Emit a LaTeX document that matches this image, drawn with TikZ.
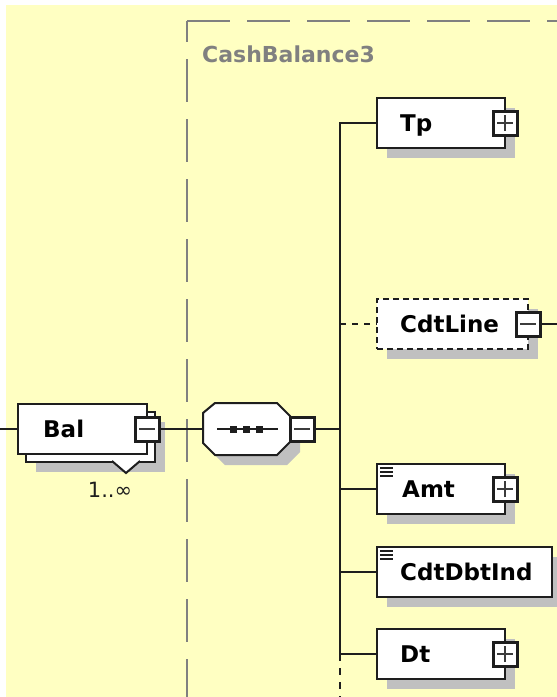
\documentclass[tikz,border=0pt]{standalone}
\usepackage{fontspec}
\setmainfont{DejaVu Sans}
\usetikzlibrary{calc,shadows}
\definecolor{bgy}{RGB}{255,255,194}
\definecolor{grp}{RGB}{128,128,128}
\definecolor{shd}{RGB}{192,192,192}
\definecolor{ink}{RGB}{30,30,30}
\definecolor{pmink}{RGB}{60,60,60}
\tikzset{
  elem/.style={draw=ink, line width=2pt, fill=white, inner sep=0pt, outer sep=0pt, minimum height=50pt, anchor=north west},
  shad/.style={drop shadow={shadow xshift=10pt, shadow yshift=-10pt, opacity=1, fill=shd}},
  lbl/.style={font=\fontsize{23}{23}\selectfont\bfseries, text=black, anchor=base west, inner sep=0pt},
  conn/.style={draw=ink, line width=2pt},
  pmbox/.style={draw=ink, line width=3pt, fill=white, minimum size=24pt, inner sep=0pt, outer sep=0pt},
  pmplus/.style={pmbox, path picture={\draw[line width=2pt, pmink]
      ([xshift=-8pt]path picture bounding box.center) -- ([xshift=8pt]path picture bounding box.center)
      ([yshift=-8pt]path picture bounding box.center) -- ([yshift=8pt]path picture bounding box.center);}},
  pmminus/.style={pmbox, path picture={\draw[line width=2pt, pmink]
      ([xshift=-8pt]path picture bounding box.center) -- ([xshift=8pt]path picture bounding box.center);}},
  iconline/.style={draw=ink, line width=1.5pt},
  grpline/.style={draw=grp, line width=2.5pt, dash pattern=on 43pt off 17pt},
}
\begin{document}
\begin{tikzpicture}[x=1pt,y=-1pt]
\useasboundingbox (0,0) rectangle (557,697);
\fill[white] (0,0) rectangle (557,697);
\fill[bgy] (6,5) rectangle (557,697);

% group frame
\draw[grpline] (187,21) -- (557,21);
\draw[grpline, dash phase=22pt] (187,21) -- (187,697);
\node[lbl, text=grp, font=\fontsize{22}{22}\selectfont\bfseries] (title) at (202,62) {CashBalance3};

% coordinates
\coordinate (lin) at (0,429);
\coordinate (tj) at (340,429);
\coordinate (tbot) at (340,697);
\coordinate (cdtout) at (557,324);

% Bal (repeated element)
\node[elem, minimum width=129pt, shad] (balback) at (26,412) {};
\fill[white] (113,461) -- (126,472) -- (139,461) -- cycle;
\draw[ink, line width=2pt] (112,461) -- (126,473) -- (140,461);
\node[elem, minimum width=129pt] (bal) at (18,404) {};
\node[lbl] (baltxt) at ($(bal.west)+(25,8.4)$) {Bal};
\node[pmminus] (balm) at (bal.east) {};
\node[font=\fontsize{21}{21}\selectfont, text=ink, anchor=base, inner sep=0pt] (balocc) at (110,497) {1..∞};

% sequence compositor
\node[minimum width=87pt, minimum height=52pt, inner sep=0pt, outer sep=0pt] (seq) at (246.5,429) {};
\draw[ink, line width=2pt, fill=white, shad]
  ($(seq.north west)+(0,10)$) -- ($(seq.north west)+(12,0)$) -- ($(seq.north east)+(-13,0)$) --
  ($(seq.north east)+(0,13)$) -- ($(seq.south east)+(0,-13)$) -- ($(seq.south east)+(-13,0)$) --
  ($(seq.south west)+(12,0)$) -- ($(seq.south west)+(0,-12)$) -- cycle;
\draw[conn] ($(seq.west)+(14,0)$) -- ($(seq.west)+(75,0)$);
\node[fill=ink, minimum size=7pt, inner sep=0pt] (d1) at ($(seq.center)+(-13,0)$) {};
\node[fill=ink, minimum size=7pt, inner sep=0pt] (d2) at (seq.center) {};
\node[fill=ink, minimum size=7pt, inner sep=0pt] (d3) at ($(seq.center)+(13,0)$) {};
\node[pmminus] (seqm) at ($(seq.east)+(12,0)$) {};

% children
\node[elem, minimum width=128pt, shad] (tp) at (377,98) {};
\node[lbl] (tptxt) at ($(tp.west)+(23,8.4)$) {Tp};
\node[pmplus] (tpp) at (tp.east) {};

\node[elem, dash pattern=on 6pt off 4pt, minimum width=151pt, shad] (cdtline) at (377,299) {};
\node[lbl] (cdtlinetxt) at ($(cdtline.west)+(23,8.4)$) {CdtLine};
\node[pmminus] (cdtlinem) at (cdtline.east) {};

\node[elem, minimum width=128pt, shad] (amt) at (377,464) {};
\node[lbl] (amttxt) at ($(amt.west)+(25,8.4)$) {Amt};
\node[pmplus] (amtp) at (amt.east) {};
\draw[iconline] ($(amt.north west)+(3,4)$) -- ++(13,0) ($(amt.north west)+(3,8)$) -- ++(13,0) ($(amt.north west)+(3,12)$) -- ++(13,0);

\node[elem, minimum width=175pt, shad] (cdi) at (377,547) {};
\node[lbl] (cditxt) at ($(cdi.west)+(23,8.4)$) {CdtDbtInd};
\draw[iconline] ($(cdi.north west)+(3,4)$) -- ++(13,0) ($(cdi.north west)+(3,8)$) -- ++(13,0) ($(cdi.north west)+(3,12)$) -- ++(13,0);

\node[elem, minimum width=128pt, shad] (dt) at (377,629) {};
\node[lbl] (dttxt) at ($(dt.west)+(23,8.4)$) {Dt};
\node[pmplus] (dtp) at (dt.east) {};

% connectors
\draw[conn] (lin) -- (bal.west);
\draw[conn] (balm.east) -- (seq.west);
\draw[conn] (seqm.east) -- (tj);
\draw[conn] (tp.west) -- (tp.west -| tj) -- (dt.west -| tj) -- (dt.west);
\draw[conn] (amt.west -| tj) -- (amt.west);
\draw[conn] (cdi.west -| tj) -- (cdi.west);
\draw[conn, dash pattern=on 6pt off 6pt] (cdtline.west -| tj) -- (cdtline.west);
\draw[conn, dash pattern=on 7pt off 7pt] (dt.west -| tj) -- (tbot);
\draw[conn] (cdtlinem.east) -- (cdtout);
\end{tikzpicture}
\end{document}
